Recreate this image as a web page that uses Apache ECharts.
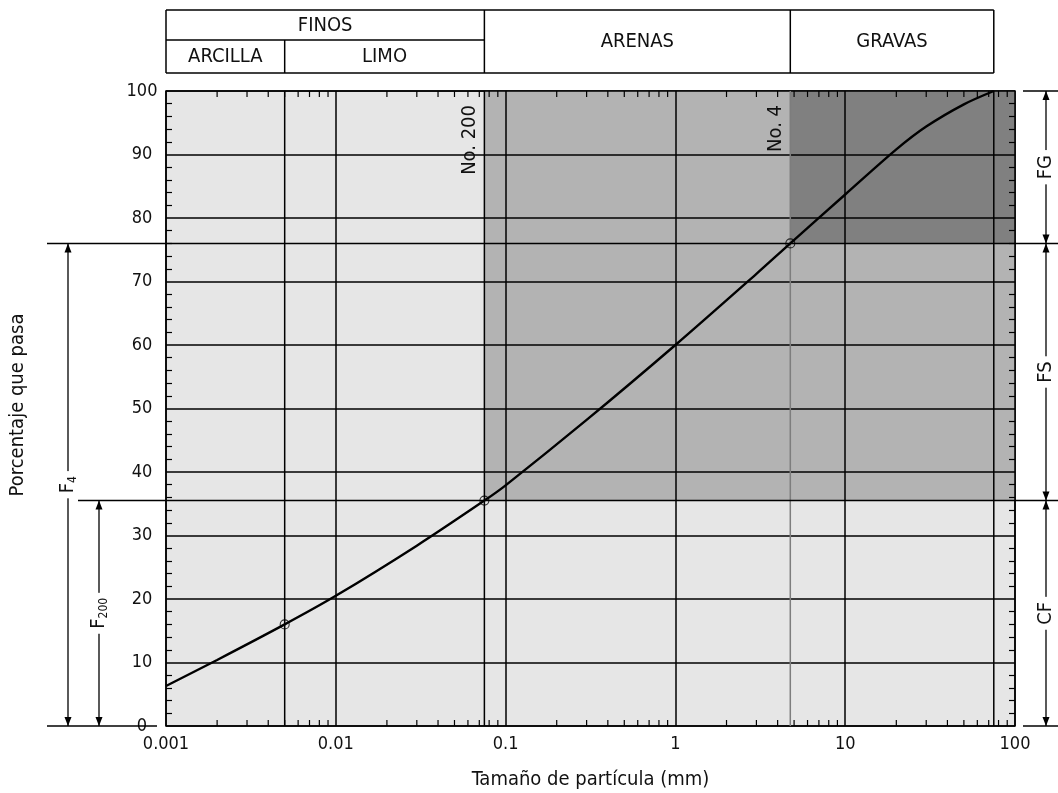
<!DOCTYPE html>
<html>
<head>
<meta charset="utf-8">
<script src="https://cdn.jsdelivr.net/npm/echarts@6/dist/echarts.min.js"></script>
<style>
  html, body { margin: 0; padding: 0; background: #fff; }
  #chart { width: 1058px; height: 793px; }
</style>
</head>
<body>
<div id="chart"></div>
<script>
const FONT = '"DejaVu Sans Condensed", "DejaVu Sans", sans-serif';

// Grain-size distribution: particle size (mm) against percent passing
const curveSize = [0.001, 0.002, 0.005, 0.01, 0.03, 0.075, 0.1, 0.3, 1, 3, 4.75, 10, 20, 30, 50, 75];
const curvePass = [6.3, 10.4, 16, 20.5, 28.4, 35.5, 37.9, 48.2, 60, 71.2, 76, 83.7, 90.8, 94.4, 97.9, 100];

// Points read at the reference sieves
const markSize = [0.005, 0.075, 4.75];
const markPass = [16, 35.5, 76];

// Axis tick labels
const xTickLabels = ['0.001', '0.01', '0.1', '1', '10', '100'];
const yTickValues = [0, 10, 20, 30, 40, 50, 60, 70, 80, 90, 100];

// Extra vertical reference lines (size in mm)
const sieveLines = [0.005, 0.075, 4.75, 75];
const sieveLineGray = [false, false, true, false];

// Sieve names written beside their lines
const sieveNames = ['No. 200', 'No. 4'];
const sieveNameSize = [0.075, 4.75];

// Shaded zones
const zoneX0 = [0.075, 4.75, 4.75];
const zoneX1 = [4.75, 100, 100];
const zoneY0 = [35.5, 35.5, 76];
const zoneY1 = [100, 76, 100];
const zoneColor = ['#b3b3b3', '#b3b3b3', '#808080'];

// Classification header (upper row spans the full height where no lower row exists)
const headUpper = ['FINOS', 'ARENAS', 'GRAVAS'];
const headUpperFrom = [0.001, 0.075, 4.75];
const headUpperTo = [0.075, 4.75, 75];
const headLower = ['ARCILLA', 'LIMO'];
const headLowerFrom = [0.001, 0.005];
const headLowerTo = [0.005, 0.075];

// Percent-passing brackets
const leftBrackets = ['F{s|4}', 'F{s|200}'];
const leftBracketFrom = [0, 0];
const leftBracketTo = [76, 35.5];
const rightBrackets = ['FG', 'FS', 'CF'];
const rightBracketFrom = [76, 35.5, 0];
const rightBracketTo = [100, 76, 35.5];

// Minor ticks on the log axis: 2..9 within each decade
const minorX = [];
[0.001, 0.01, 0.1, 1, 10].forEach(d => { for (let k = 2; k <= 9; k++) minorX.push(d * k); });

const chart = echarts.init(document.getElementById('chart'));

const option = {
  animation: false,
  backgroundColor: '#fff',
  textStyle: { fontFamily: FONT },
  grid: {
    left: 166, right: 43, top: 91, bottom: 67,
    outerBoundsMode: 'none', containLabel: false,
    show: true, backgroundColor: '#e6e6e6', borderColor: '#000', borderWidth: 1.5
  },
  xAxis: [{
    type: 'log', logBase: 10, min: 0.001, max: 100, z: 3,
    axisLine: { show: false },
    axisTick: { show: false },
    axisLabel: {
      fontSize: 18, color: '#111', margin: 9, fontFamily: FONT,
      formatter: v => xTickLabels[Math.round(Math.log10(v)) + 3]
    },
    splitLine: { show: true, lineStyle: { color: '#000', width: 1.5 } },
    name: 'Tamaño de partícula (mm)', nameLocation: 'middle', nameGap: 44,
    nameTextStyle: { fontSize: 20, color: '#111', fontFamily: FONT }
  }],
  yAxis: [{
    type: 'value', min: 0, max: 100, interval: 10, z: 3,
    axisLine: { show: false },
    axisTick: { show: false, inside: true },
    minorTick: { show: true, splitNumber: 5, length: 6, lineStyle: { color: '#000', width: 1.2 } },
    axisLabel: {
      fontSize: 18, color: '#111', align: 'center', margin: 24, fontFamily: FONT,
      formatter: v => (yTickValues.indexOf(v) >= 0 ? String(v) : '')
    },
    splitLine: { show: true, lineStyle: { color: '#000', width: 1.5 } }
  }, {
    type: 'value', position: 'right', min: 0, max: 100, interval: 10, z: 3,
    axisLine: { show: false },
    axisTick: { show: false, inside: true },
    minorTick: { show: true, splitNumber: 5, length: 6, lineStyle: { color: '#000', width: 1.2 } },
    axisLabel: { show: false },
    splitLine: { show: false }
  }],
  series: [
    {
      name: 'zones', type: 'custom', z: 1, silent: true,
      data: zoneX0.map((x, i) => [x, zoneX1[i], zoneY0[i], zoneY1[i], i]),
      encode: { x: [0, 1], y: [2, 3] },
      renderItem: (params, api) => {
        const a = api.coord([api.value(0), api.value(3)]);
        const b = api.coord([api.value(1), api.value(2)]);
        return {
          type: 'rect',
          shape: { x: a[0], y: a[1], width: b[0] - a[0], height: b[1] - a[1] },
          style: { fill: zoneColor[api.value(4)] }
        };
      }
    },
    {
      name: 'sieve lines', type: 'custom', z: 4, silent: true,
      data: sieveLines.map((x, i) => [x, i]),
      encode: { x: 0 },
      renderItem: (params, api) => {
        const s = api.value(0);
        const a = api.coord([s, 0]);
        const b = api.coord([s, 100]);
        const gray = sieveLineGray[api.value(1)];
        return {
          type: 'line',
          shape: { x1: a[0], y1: a[1], x2: b[0], y2: b[1] },
          style: { stroke: gray ? '#7d7d7d' : '#000', lineWidth: 1.5 }
        };
      }
    },
    {
      name: 'minor ticks', type: 'custom', z: 4, silent: true,
      data: minorX.map(v => [v]),
      encode: { x: 0 },
      renderItem: (params, api) => {
        const v = api.value(0);
        const a = api.coord([v, 0]);
        const b = api.coord([v, 100]);
        return {
          type: 'group',
          children: [
            { type: 'line', shape: { x1: a[0], y1: a[1], x2: a[0], y2: a[1] - 6 }, style: { stroke: '#000', lineWidth: 1.2 } },
            { type: 'line', shape: { x1: b[0], y1: b[1], x2: b[0], y2: b[1] + 6 }, style: { stroke: '#000', lineWidth: 1.2 } }
          ]
        };
      }
    },
    {
      name: 'curve', type: 'line', z: 6, smooth: 0.3, symbol: 'none',
      data: curveSize.map((x, i) => [x, curvePass[i]]),
      lineStyle: { color: '#000', width: 2.4 }
    },
    {
      name: 'marks', type: 'scatter', z: 7, symbol: 'circle', symbolSize: 9,
      data: markSize.map((x, i) => [x, markPass[i]]),
      itemStyle: { color: 'rgba(0,0,0,0)', borderColor: '#000', borderWidth: 1.1 }
    }
  ]
};

chart.setOption(option);

// Annotations placed through the chart's own coordinate conversion
const px = (x, y) => chart.convertToPixel({ gridIndex: 0 }, [x, y]);
const X = v => px(v, 0)[0];
const Y = v => px(1, v)[1];

const g = [];
const line = (x1, y1, x2, y2, w, z) => g.push({
  type: 'line', z: z || 10, silent: true,
  shape: { x1, y1, x2, y2 }, style: { stroke: '#000', lineWidth: w || 1.5 }
});
const head = (x, y, dir) => g.push({
  type: 'polygon', z: 10, silent: true,
  shape: { points: [[x, y], [x - 3.5, y + dir * 9], [x + 3.5, y + dir * 9]] },
  style: { fill: '#000' }
});
const bracket = (x, yTop, yBot, text) => {
  line(x, yTop, x, yBot, 1.3);
  head(x, yTop, 1);
  head(x, yBot, -1);
  g.push({
    type: 'text', z: 11, silent: true,
    x: x, y: (yTop + yBot) / 2, rotation: Math.PI / 2,
    style: {
      text: text, fill: '#111', align: 'center', verticalAlign: 'middle',
      fontFamily: FONT, fontSize: 20, backgroundColor: '#fff', padding: [1, 5],
      rich: { s: { fontSize: 12, fontFamily: FONT, fill: '#111', padding: [10, 0, 0, 0] } }
    }
  });
};

const xL = X(0.001), xR = X(100);
const y0 = Y(0), y100 = Y(100);

// Horizontal reference lines at the sieve percentages
line(47, Y(76), 1058, Y(76), 1.5, 5);
line(78, Y(35.5), 1058, Y(35.5), 1.5, 5);
line(47, y0, xL - 9, y0, 1.5);
line(xR + 8, y0, 1058, y0, 1.5);
line(xR + 8, y100, 1058, y100, 1.5);

// Left brackets
bracket(68, Y(leftBracketTo[0]), Y(leftBracketFrom[0]), leftBrackets[0]);
bracket(99, Y(leftBracketTo[1]), Y(leftBracketFrom[1]), leftBrackets[1]);
// Right brackets
rightBrackets.forEach((t, i) => bracket(1046, Y(rightBracketTo[i]), Y(rightBracketFrom[i]), t));

// Sieve names beside their lines
sieveNames.forEach((t, i) => g.push({
  type: 'text', z: 11, silent: true,
  x: X(sieveNameSize[i]) - 5, y: 105, rotation: Math.PI / 2,
  style: { text: t, fill: '#111', align: 'right', verticalAlign: 'bottom', fontFamily: FONT, fontSize: 20 }
}));

// Y axis title
g.push({
  type: 'text', z: 11, silent: true, x: 18, y: 405, rotation: Math.PI / 2,
  style: { text: 'Porcentaje que pasa', fill: '#111', align: 'center', verticalAlign: 'middle', fontFamily: FONT, fontSize: 20 }
});

// Classification header
const hTop = 10, hMid = 40, hBot = 73;
const hL = X(headUpperFrom[0]), hR = X(headUpperTo[2]);
line(hL, hTop, hR, hTop, 1.5);
line(hL, hBot, hR, hBot, 1.5);
line(hL, hTop, hL, hBot, 1.5);
line(hR, hTop, hR, hBot, 1.5);
line(hL, hMid, X(headUpperTo[0]), hMid, 1.5);
headUpper.forEach((t, i) => {
  const a = X(headUpperFrom[i]), b = X(headUpperTo[i]);
  if (i > 0) line(a, hTop, a, hBot, 1.5);
  const hasLower = i === 0;
  g.push({
    type: 'text', z: 11, silent: true, x: (a + b) / 2, y: hasLower ? (hTop + hMid) / 2 + 1 : (hTop + hBot) / 2,
    style: { text: t, fill: '#111', align: 'center', verticalAlign: 'middle', fontFamily: FONT, fontSize: 20 }
  });
});
headLower.forEach((t, i) => {
  const a = X(headLowerFrom[i]), b = X(headLowerTo[i]);
  if (i > 0) line(a, hMid, a, hBot, 1.5);
  g.push({
    type: 'text', z: 11, silent: true, x: (a + b) / 2, y: (hMid + hBot) / 2,
    style: { text: t, fill: '#111', align: 'center', verticalAlign: 'middle', fontFamily: FONT, fontSize: 20 }
  });
});

chart.setOption({ graphic: { elements: g } });
</script>
</body>
</html>
